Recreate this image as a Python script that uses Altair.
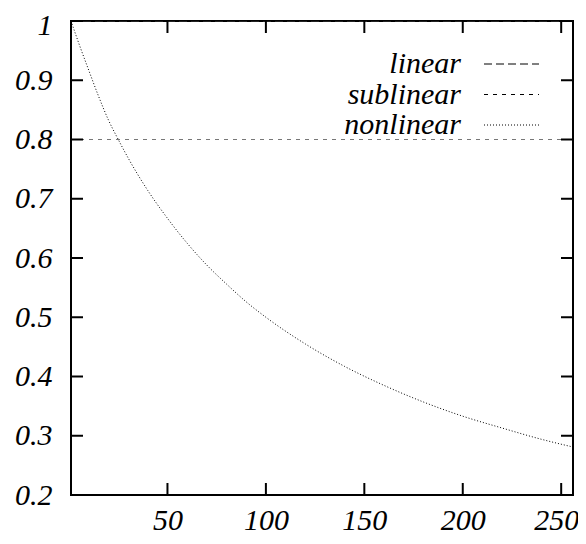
import altair as alt
import pandas as pd

# ---- data ----
series_names = ["linear", "sublinear", "nonlinear"]
x_range = [1, 256]
linear_y = [1.0, 1.0]
sublinear_y = [0.8, 0.8]
nonlinear_x = [1, 5, 10, 15, 20, 25, 30, 40, 50, 60, 70, 80, 90, 100,
               120, 140, 160, 180, 200, 220, 240, 256]
nonlinear_y = [1.0, 0.962, 0.917, 0.873, 0.833, 0.800, 0.769, 0.714, 0.667,
               0.625, 0.588, 0.556, 0.526, 0.500, 0.455, 0.417, 0.385, 0.357,
               0.333, 0.313, 0.294, 0.281]
x_ticks = [50, 100, 150, 200, 250]
y_ticks = [0.2, 0.3, 0.4, 0.5, 0.6, 0.7, 0.8, 0.9, 1.0]
y_range = [0.2, 1.0]

# ---- styling ----
W, H = 502, 474
TL = 12  # inward tick length in px
FONT = "Liberation Serif"
FS = 30
dash_range = [[8, 4], [4, 5], [1, 2]]
color_range = ["#444444", "#777777", "#000000"]

rows = []
for xv, yv in zip(x_range, linear_y):
    rows.append({"x": xv, "y": yv, "series": "linear"})
for xv, yv in zip(x_range, sublinear_y):
    rows.append({"x": xv, "y": yv, "series": "sublinear"})
for xv, yv in zip(nonlinear_x, nonlinear_y):
    rows.append({"x": xv, "y": yv, "series": "nonlinear"})
df = pd.DataFrame(rows)

xs = alt.Scale(domain=x_range, nice=False, zero=False)
ys = alt.Scale(domain=y_range, nice=False, zero=False)

axis_common = dict(
    grid=False, ticks=False, title=None, domain=False,
    labelFont=FONT, labelFontStyle="italic", labelFontSize=FS,
    labelColor="black",
)

# keep the outermost labels inside the page
last_label_offset = {"condition": {"test": f"datum.value == {x_ticks[-1]}", "value": -5}, "value": 0}
top_label_offset = {"condition": {"test": f"datum.value == {y_ticks[-1]}", "value": 4}, "value": 0}

lines = alt.Chart(df).mark_line(clip=True, strokeWidth=1, interpolate="monotone").encode(
    x=alt.X("x:Q", scale=xs,
            axis=alt.Axis(values=x_ticks, labelPadding=10, format="d",
                          labelOffset=last_label_offset, **axis_common)),
    y=alt.Y("y:Q", scale=ys,
            axis=alt.Axis(values=y_ticks, labelPadding=19, format="~g",
                          labelOffset=top_label_offset, **axis_common)),
    strokeDash=alt.StrokeDash("series:N", scale=alt.Scale(domain=series_names, range=dash_range), legend=None),
    color=alt.Color("series:N", scale=alt.Scale(domain=series_names, range=color_range), legend=None),
    detail="series:N",
)

xt = pd.DataFrame({"x": x_ticks})
yt = pd.DataFrame({"y": y_ticks})

tick_bottom = alt.Chart(xt).mark_rule(strokeWidth=2, color="black").encode(
    x=alt.X("x:Q", scale=xs), y=alt.value(H), y2=alt.value(H - TL))
tick_top = alt.Chart(xt).mark_rule(strokeWidth=2, color="black").encode(
    x=alt.X("x:Q", scale=xs), y=alt.value(0), y2=alt.value(TL))
tick_left = alt.Chart(yt).mark_rule(strokeWidth=2, color="black").encode(
    y=alt.Y("y:Q", scale=ys), x=alt.value(0), x2=alt.value(TL))
tick_right = alt.Chart(yt).mark_rule(strokeWidth=2, color="black").encode(
    y=alt.Y("y:Q", scale=ys), x=alt.value(W), x2=alt.value(W - TL))

# ---- manual gnuplot-style key (label left, sample right) ----
key_layers = []
key_base = [52, 82.5, 113]
for i, name in enumerate(series_names):
    d = pd.DataFrame({"series": [name]})
    key_layers.append(
        alt.Chart(d).mark_text(align="right", baseline="alphabetic", font=FONT, fontStyle="italic",
                               fontSize=FS, color="black").encode(
            text="series:N", x=alt.value(390), y=alt.value(key_base[i]))
    )
    key_layers.append(
        alt.Chart(d).mark_rule(strokeWidth=1, strokeDash=dash_range[i], color="black").encode(
            x=alt.value(413), x2=alt.value(468), y=alt.value(key_base[i] - 9))
    )

chart = alt.layer(lines, tick_bottom, tick_top, tick_left, tick_right, *key_layers).properties(
    width=W, height=H,
    autosize=alt.AutoSizeParams(type="none"),
    padding={"left": 63, "top": 13, "right": 5, "bottom": 41},
).configure_view(stroke="black", strokeWidth=2)

chart.save("out.html", embed_options={"renderer": "svg", "actions": False})
